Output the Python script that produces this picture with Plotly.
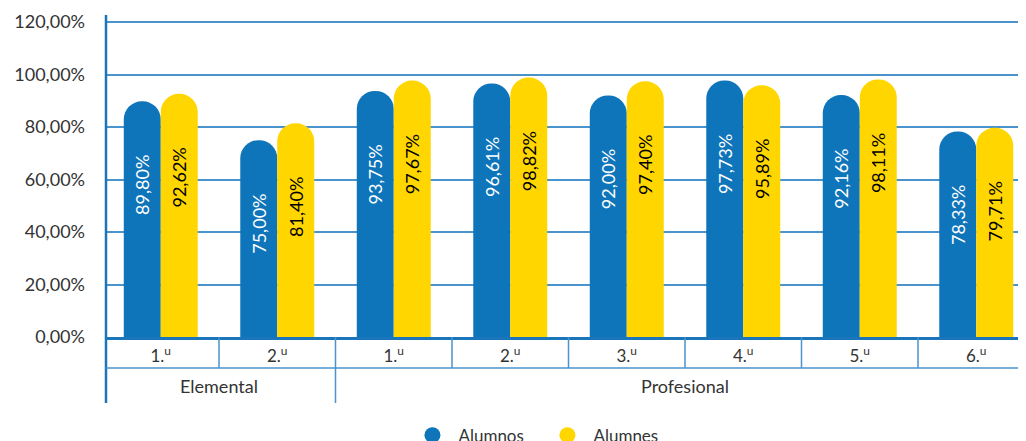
import plotly.graph_objects as go

groups = ["Elemental", "Elemental", "Profesional", "Profesional", "Profesional", "Profesional", "Profesional", "Profesional"]
courses = ["1.<sup>u</sup>", "2.<sup>u</sup>", "1.<sup>u</sup>", "2.<sup>u</sup>", "3.<sup>u</sup>", "4.<sup>u</sup>", "5.<sup>u</sup>", "6.<sup>u</sup>"]
alumnos = [89.80, 75.00, 93.75, 96.61, 92.00, 97.73, 92.16, 78.33]
alumnes = [92.62, 81.40, 97.67, 98.82, 97.40, 95.89, 98.11, 79.71]
y_ticks = [0, 20, 40, 60, 80, 100, 120]

BLUE = "#0f75ba"
YELLOW = "#ffd600"
GRID = "#4a93cc"
AXIS = "#1a75bb"
TEXT = "#333333"
FONT = "Lato"


def pct(v):
    return f"{v:.2f}".replace(".", ",") + "%"


x = list(range(len(courses)))
PAD = "\u00a0" * 10

fig = go.Figure()
for name, vals, col, tcol in [("Alumnos", alumnos, BLUE, "white"), ("Alumnes", alumnes, YELLOW, "black")]:
    fig.add_trace(go.Bar(
        x=x, y=vals, name=name, showlegend=False,
        marker=dict(color=col, cornerradius="50%", line=dict(width=0)),
        text=[pct(v) + PAD for v in vals],
        textposition="inside", insidetextanchor="end", textangle=-90,
        textfont=dict(family=FONT, size=18, color=tcol),
        constraintext="none", hoverinfo="skip",
    ))
    fig.add_trace(go.Scatter(
        x=[None], y=[None], mode="markers", name=name,
        marker=dict(symbol="circle", size=20, color=col),
    ))

# table lines under the x axis
row1 = -31 / 322
row2 = -66 / 322
shapes = []
shapes.append(dict(type="line", xref="paper", yref="paper", x0=0, x1=0, y0=row2, y1=1.0,
                   line=dict(color=AXIS, width=2.5)))
shapes.append(dict(type="line", xref="paper", yref="paper", x0=0, x1=1, y0=row1, y1=row1,
                   line=dict(color=GRID, width=1.5)))
for i in range(len(x) - 1):
    boundary = groups[i] != groups[i + 1]
    shapes.append(dict(type="line", xref="x", yref="paper", x0=i + 0.5, x1=i + 0.5,
                       y0=row2 if boundary else row1, y1=0,
                       line=dict(color=GRID, width=1.5)))

annotations = []
seen = []
for g in groups:
    if g not in seen:
        seen.append(g)
for g in seen:
    idx = [i for i, gg in enumerate(groups) if gg == g]
    annotations.append(dict(x=sum(idx) / len(idx), y=(row1 + row2) / 2, xref="x", yref="paper",
                            text=g, showarrow=False, yanchor="middle",
                            font=dict(family=FONT, size=18, color=TEXT)))

fig.update_layout(
    width=1018, height=433,
    margin=dict(l=98, r=0, t=7, b=104, autoexpand=False),
    paper_bgcolor="white", plot_bgcolor="white",
    barmode="group", bargap=0.365, bargroupgap=0,
    font=dict(family=FONT, color=TEXT),
    shapes=shapes, annotations=annotations,
    legend=dict(orientation="h", xref="container", yref="container",
                x=0.524, xanchor="center", y=0.054, yanchor="top",
                font=dict(family=FONT, size=17, color=TEXT), itemsizing="trace",
                itemwidth=42, entrywidth=78),
    xaxis=dict(range=[-0.47, 7.427], tickvals=x, ticktext=courses,
               showgrid=False, showline=True, linecolor=AXIS, linewidth=2.5,
               ticks="", ticklabelstandoff=2, automargin=False,
               tickfont=dict(family=FONT, size=17, color=TEXT), zeroline=False),
    yaxis=dict(range=[0, 322 / 2.625], tickvals=y_ticks, ticktext=[pct(v) for v in y_ticks],
               showgrid=True, gridcolor=GRID, gridwidth=1.5, automargin=False,
               zeroline=False, showline=False, ticks="", ticklabelstandoff=20,
               tickfont=dict(family=FONT, size=18, color=TEXT)),
)

fig.write_html("out.html")
